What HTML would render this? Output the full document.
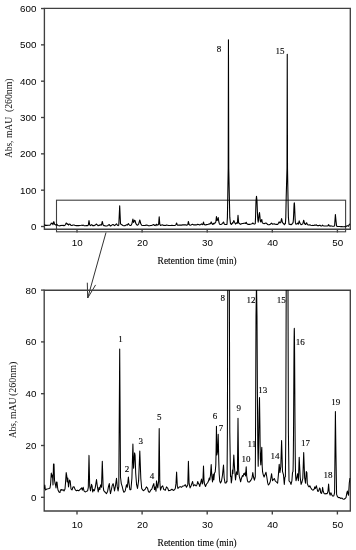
<!DOCTYPE html>
<html><head><meta charset="utf-8"><title>Chromatogram</title>
<style>
html,body{margin:0;padding:0;background:#fff;}
body{width:356px;height:550px;overflow:hidden;font-family:"Liberation Sans", sans-serif;}
svg{display:block;}
#w{width:356px;height:550px;filter:grayscale(1);}
</style></head><body>
<div id="w"><svg width="356" height="550" viewBox="0 0 356 550">
<rect width="356" height="550" fill="#fff"/>
<defs>
<clipPath id="cb"><rect x="44" y="290.1" width="306.5" height="221"/></clipPath>
<clipPath id="ct"><rect x="44" y="8" width="306.5" height="221"/></clipPath>
</defs>
<!-- top chart -->
<g stroke="#404040" stroke-width="1.35" fill="none">
<path d="M44.4,8.4 H350.3 V229.2 H44.4 Z"/>
<line x1="41" y1="226.50" x2="44.5" y2="226.50"/>
<line x1="41" y1="190.17" x2="44.5" y2="190.17"/>
<line x1="41" y1="153.84" x2="44.5" y2="153.84"/>
<line x1="41" y1="117.51" x2="44.5" y2="117.51"/>
<line x1="41" y1="81.18" x2="44.5" y2="81.18"/>
<line x1="41" y1="44.85" x2="44.5" y2="44.85"/>
<line x1="41" y1="8.52" x2="44.5" y2="8.52"/>
<line x1="77.0" y1="229" x2="77.0" y2="232.5"/>
<line x1="142.1" y1="229" x2="142.1" y2="232.5"/>
<line x1="207.2" y1="229" x2="207.2" y2="232.5"/>
<line x1="272.3" y1="229" x2="272.3" y2="232.5"/>
<line x1="337.4" y1="229" x2="337.4" y2="232.5"/>
<rect x="56.5" y="200.2" width="289.1" height="31.6" stroke-width="1.1"/>
<g stroke="#333" stroke-width="1"><line x1="106" y1="232.5" x2="87.7" y2="298"/>
<polyline points="87.3,282.7 87.7,298 95.6,284.9"/></g>
</g>
<path d="M44.30,225.34 L44.80,224.77 L45.40,225.48 L46.00,225.41 L47.00,225.34 L48.00,225.31 L49.00,225.27 L50.00,225.20 L50.60,224.63 L51.30,223.09 L51.90,223.65 L52.50,223.37 L53.00,224.77 L53.50,221.83 L54.00,221.83 L54.50,224.07 L55.00,224.49 L55.50,224.77 L56.00,225.20 L56.50,224.35 L57.00,224.35 L57.50,225.06 L58.00,225.48 L59.00,225.76 L60.00,225.83 L60.50,225.48 L61.50,225.41 L62.00,225.55 L63.00,225.41 L64.00,225.62 L65.00,225.34 L65.50,224.49 L66.20,223.02 L66.80,223.51 L67.20,224.35 L67.80,223.79 L68.50,225.06 L69.50,224.07 L70.20,224.21 L71.00,225.34 L72.00,225.48 L73.00,225.06 L74.00,225.01 L75.20,225.42 L76.40,225.59 L77.50,225.50 L78.70,225.59 L79.90,225.42 L81.10,225.27 L81.70,225.18 L82.30,225.50 L83.20,225.10 L84.00,225.59 L85.20,225.76 L86.40,225.67 L87.60,225.59 L88.30,225.10 L89.00,220.62 L89.70,224.91 L90.50,225.59 L91.50,224.68 L92.10,224.91 L92.70,225.76 L93.50,225.42 L94.30,225.59 L95.30,225.10 L96.50,224.02 L97.30,224.91 L98.20,225.76 L99.10,225.10 L99.80,225.42 L100.60,224.76 L101.50,225.10 L102.30,221.45 L103.10,224.91 L103.80,225.59 L104.60,225.67 L105.40,225.85 L106.50,225.98 L107.60,225.67 L108.50,224.97 L109.30,224.58 L109.90,225.48 L110.50,225.98 L111.30,225.48 L112.20,224.84 L113.10,224.58 L113.80,224.97 L114.50,225.60 L115.40,224.97 L116.50,223.82 L117.20,224.97 L118.10,225.60 L118.80,224.97 L119.70,205.70 L120.50,223.69 L121.30,224.58 L122.20,224.97 L123.00,225.48 L123.90,225.80 L125.20,225.62 L126.50,224.73 L127.30,225.10 L128.40,223.65 L129.00,224.55 L129.90,225.45 L130.90,225.45 L131.90,223.83 L132.90,219.02 L133.60,222.42 L134.60,220.27 L135.10,220.62 L135.70,223.13 L136.60,224.73 L137.50,225.27 L138.60,224.20 L139.80,220.01 L140.80,223.83 L141.70,225.27 L143.00,225.53 L143.60,225.57 L145.30,225.35 L146.40,225.04 L147.50,225.20 L148.50,225.73 L149.60,225.80 L150.70,225.50 L151.80,225.35 L152.90,224.89 L153.80,224.58 L154.50,225.42 L155.30,225.04 L156.00,225.66 L156.50,224.20 L157.30,224.89 L157.80,225.20 L158.60,224.27 L159.20,216.86 L159.80,224.27 L160.50,225.50 L161.60,225.04 L162.70,224.89 L163.80,225.42 L165.40,225.50 L166.50,225.04 L167.60,225.20 L168.70,225.57 L170.40,225.50 L171.90,225.36 L173.20,225.53 L174.50,225.45 L175.30,225.27 L176.00,224.55 L176.60,222.95 L177.30,224.91 L177.90,225.27 L178.90,225.10 L180.20,225.00 L181.50,225.10 L182.70,224.91 L184.00,224.91 L185.30,224.73 L186.50,225.10 L187.80,224.73 L188.40,221.44 L189.10,224.55 L190.10,225.18 L191.00,224.91 L191.90,224.55 L192.60,224.28 L193.50,224.91 L194.80,224.73 L196.10,224.91 L197.00,224.73 L197.70,224.28 L198.40,224.56 L199.00,224.63 L199.80,224.99 L200.80,224.35 L201.50,223.93 L202.20,224.63 L202.80,224.49 L203.50,222.11 L204.00,224.07 L204.50,224.63 L205.50,224.99 L206.50,224.63 L207.50,224.49 L208.50,224.21 L209.20,223.79 L209.80,224.07 L210.50,223.37 L211.20,221.90 L211.80,223.51 L212.50,224.35 L213.20,223.23 L213.80,224.07 L214.50,223.09 L215.20,222.95 L215.80,221.97 L216.10,219.87 L216.45,216.53 L216.90,220.57 L217.50,220.15 L218.20,217.65 L218.80,221.55 L219.20,223.23 L219.70,224.21 L220.50,224.49 L221.50,224.21 L222.50,223.37 L223.50,221.97 L224.20,223.79 L225.00,224.49 L226.00,224.49 L226.80,224.21 L227.00,224.32 L227.40,217.42 L227.75,197.44 L228.20,168.37 L228.45,39.76 L228.75,168.37 L229.35,197.44 L229.80,217.42 L230.50,223.59 L230.90,223.51 L231.30,224.49 L231.80,224.07 L232.50,222.67 L232.90,223.18 L233.80,220.57 L234.50,222.29 L235.50,224.07 L236.50,222.92 L237.40,223.30 L238.00,215.42 L238.60,222.67 L239.30,223.57 L240.00,223.93 L240.60,224.33 L241.50,223.82 L242.50,223.44 L243.10,223.57 L243.80,223.18 L244.50,223.30 L245.10,223.05 L245.50,223.51 L246.20,222.22 L246.70,223.51 L247.50,224.21 L248.10,224.34 L249.60,224.34 L251.10,224.06 L252.00,223.79 L252.80,223.02 L253.50,223.65 L254.40,224.10 L255.10,223.72 L255.30,223.59 L255.60,215.60 L256.00,201.07 L256.50,196.35 L257.00,201.07 L257.40,211.97 L257.80,219.23 L258.20,222.14 L258.60,219.23 L259.10,214.51 L259.50,212.51 L259.90,216.33 L260.30,221.05 L260.80,221.96 L261.30,220.32 L261.80,219.49 L262.20,222.14 L262.60,222.94 L263.20,223.32 L264.10,223.65 L265.00,223.32 L266.00,222.99 L266.80,223.65 L267.70,224.48 L268.40,224.77 L269.30,224.63 L270.30,224.28 L271.60,223.19 L272.50,224.19 L273.30,224.02 L274.30,223.86 L275.20,224.19 L276.40,224.35 L277.60,224.52 L278.40,223.36 L279.20,221.87 L279.90,223.04 L280.80,222.19 L281.60,218.55 L282.50,222.87 L283.50,223.36 L284.30,224.69 L284.90,223.69 L285.40,223.59 L285.80,217.42 L286.20,197.44 L287.00,168.37 L287.25,54.30 L287.50,168.37 L288.00,197.44 L288.40,217.42 L289.00,223.96 L289.00,224.19 L290.10,224.35 L291.00,224.69 L291.90,224.19 L292.50,223.04 L293.00,222.88 L293.10,222.43 L293.20,221.76 L293.30,220.80 L293.40,219.51 L293.50,217.84 L293.60,215.81 L293.70,213.48 L293.80,210.98 L293.90,208.48 L294.00,206.20 L294.10,204.37 L294.20,203.19 L294.30,202.79 L294.40,203.23 L294.50,204.46 L294.60,206.33 L294.70,208.65 L294.80,211.19 L294.90,213.74 L295.00,216.10 L295.10,218.18 L295.20,219.88 L295.30,221.22 L295.40,222.22 L295.50,222.93 L295.60,223.42 L296.00,224.19 L296.90,223.69 L297.60,223.19 L298.40,224.19 L299.20,220.88 L300.20,223.69 L301.10,224.69 L302.00,224.35 L302.80,223.86 L303.70,220.22 L304.60,223.69 L305.50,224.52 L306.30,222.90 L306.90,223.05 L307.30,224.58 L308.20,224.89 L309.10,225.04 L309.80,224.89 L310.90,225.20 L312.00,225.42 L313.10,225.50 L314.20,225.35 L314.70,225.04 L315.30,225.27 L316.40,224.89 L316.90,225.20 L317.70,225.66 L318.50,225.66 L319.60,225.20 L320.20,225.35 L320.70,225.88 L321.60,225.95 L322.40,225.42 L322.60,225.11 L323.20,225.66 L324.00,225.95 L325.10,226.04 L326.00,225.98 L327.20,225.98 L328.00,225.63 L328.60,224.65 L329.30,225.85 L330.10,226.21 L330.90,225.85 L331.60,226.09 L332.50,226.32 L333.80,226.32 L334.60,225.85 L335.00,219.96 L335.40,214.47 L335.90,219.96 L336.60,226.09 L337.50,226.43 L338.70,226.54 L339.90,226.54 L340.70,226.67 L342.00,226.60 L342.80,226.72 L344.00,226.78 L345.20,226.67 L346.00,226.54 L346.90,225.85 L347.40,225.63 L347.90,225.98 L348.50,226.21 L349.30,224.48 L350.00,223.79" fill="none" stroke="#000" stroke-width="1.1" stroke-linejoin="round" clip-path="url(#ct)"/>
<!-- bottom chart -->
<g stroke="#404040" stroke-width="1.35" fill="none">
<path d="M44.2,290.2 H350.3 V511.0 H44.2 Z"/>
<line x1="41" y1="497.30" x2="44.5" y2="497.30"/>
<line x1="41" y1="445.50" x2="44.5" y2="445.50"/>
<line x1="41" y1="393.70" x2="44.5" y2="393.70"/>
<line x1="41" y1="341.90" x2="44.5" y2="341.90"/>
<line x1="41" y1="290.10" x2="44.5" y2="290.10"/>
<line x1="77.0" y1="511" x2="77.0" y2="514.5"/>
<line x1="142.1" y1="511" x2="142.1" y2="514.5"/>
<line x1="207.2" y1="511" x2="207.2" y2="514.5"/>
<line x1="272.3" y1="511" x2="272.3" y2="514.5"/>
<line x1="337.4" y1="511" x2="337.4" y2="514.5"/>
</g>
<path d="M44.30,489.00 L44.80,485.00 L45.40,490.00 L46.00,489.50 L47.00,489.00 L48.00,488.80 L49.00,488.50 L50.00,488.00 L50.60,484.00 L51.30,473.00 L51.90,477.00 L52.50,475.00 L53.00,485.00 L53.50,464.00 L54.00,464.00 L54.50,480.00 L55.00,483.00 L55.50,485.00 L56.00,488.00 L56.50,482.00 L57.00,482.00 L57.50,487.00 L58.00,490.00 L59.00,492.00 L60.00,492.50 L60.50,490.00 L61.50,489.50 L62.00,490.50 L63.00,489.50 L64.00,491.00 L65.00,489.00 L65.50,483.00 L66.20,472.50 L66.80,476.00 L67.20,482.00 L67.80,478.00 L68.50,487.00 L69.50,480.00 L70.20,481.00 L71.00,489.00 L72.00,490.00 L73.00,487.00 L74.00,486.70 L75.20,489.60 L76.40,490.80 L77.50,490.20 L78.70,490.80 L79.90,489.60 L81.10,488.50 L81.70,487.90 L82.30,490.20 L83.20,487.30 L84.00,490.80 L85.20,492.00 L86.40,491.40 L87.60,490.80 L88.30,487.30 L89.00,455.40 L89.70,486.00 L90.50,490.80 L91.50,484.30 L92.10,486.00 L92.70,492.00 L93.50,489.60 L94.30,490.80 L95.30,487.30 L96.50,479.60 L97.30,486.00 L98.20,492.00 L99.10,487.30 L99.80,489.60 L100.60,484.90 L101.50,487.30 L102.30,461.30 L103.10,486.00 L103.80,490.80 L104.60,491.40 L105.40,492.70 L106.50,493.60 L107.60,491.40 L108.50,486.40 L109.30,483.60 L109.90,490.00 L110.50,493.60 L111.30,490.00 L112.20,485.50 L113.10,483.60 L113.80,486.40 L114.50,490.90 L115.40,486.40 L116.50,478.20 L117.20,486.40 L118.10,490.90 L118.80,486.40 L119.70,349.00 L120.50,477.30 L121.30,483.60 L122.20,486.40 L123.00,490.00 L123.90,492.30 L125.20,491.00 L126.50,484.70 L127.30,487.30 L128.40,477.00 L129.00,483.40 L129.90,489.80 L130.90,489.80 L131.90,478.30 L132.90,444.00 L133.60,468.20 L134.60,452.90 L135.10,455.40 L135.70,473.30 L136.60,484.70 L137.50,488.50 L138.60,480.90 L139.80,451.00 L140.80,478.30 L141.70,488.50 L143.00,490.40 L143.60,490.70 L145.30,489.10 L146.40,486.90 L147.50,488.00 L148.50,491.80 L149.60,492.30 L150.70,490.20 L151.80,489.10 L152.90,485.80 L153.80,483.60 L154.50,489.60 L155.30,486.90 L156.00,491.30 L156.50,480.90 L157.30,485.80 L157.80,488.00 L158.60,481.40 L159.20,428.60 L159.80,481.40 L160.50,490.20 L161.60,486.90 L162.70,485.80 L163.80,489.60 L165.40,490.20 L166.50,486.90 L167.60,488.00 L168.70,490.70 L170.40,490.20 L171.90,489.20 L173.20,490.40 L174.50,489.80 L175.30,488.50 L176.00,483.40 L176.60,472.00 L177.30,486.00 L177.90,488.50 L178.90,487.30 L180.20,486.60 L181.50,487.30 L182.70,486.00 L184.00,486.00 L185.30,484.70 L186.50,487.30 L187.80,484.70 L188.40,461.20 L189.10,483.40 L190.10,487.90 L191.00,486.00 L191.90,483.40 L192.60,481.50 L193.50,486.00 L194.80,484.70 L196.10,486.00 L197.00,484.70 L197.70,481.50 L198.40,483.50 L199.00,484.00 L199.80,486.50 L200.80,482.00 L201.50,479.00 L202.20,484.00 L202.80,483.00 L203.50,466.00 L204.00,480.00 L204.50,484.00 L205.50,486.50 L206.50,484.00 L207.50,483.00 L208.50,481.00 L209.20,478.00 L209.80,480.00 L210.50,475.00 L211.20,464.50 L211.80,476.00 L212.50,482.00 L213.20,474.00 L213.80,480.00 L214.50,473.00 L215.20,472.00 L215.80,465.00 L216.10,450.00 L216.45,426.20 L216.90,455.00 L217.50,452.00 L218.20,434.20 L218.80,462.00 L219.20,474.00 L219.70,481.00 L220.50,483.00 L221.50,481.00 L222.50,475.00 L223.50,465.00 L224.20,478.00 L225.00,483.00 L226.00,483.00 L226.80,481.00 L227.00,481.76 L227.40,432.55 L227.75,290.10 L228.20,82.90 L228.45,-833.96 L228.75,82.90 L229.35,290.10 L229.80,432.55 L230.50,476.58 L230.90,476.00 L231.30,483.00 L231.80,480.00 L232.50,470.00 L232.90,473.60 L233.80,455.00 L234.50,467.30 L235.50,480.00 L236.50,471.80 L237.40,474.50 L238.00,418.30 L238.60,470.00 L239.30,476.40 L240.00,479.00 L240.60,481.80 L241.50,478.20 L242.50,475.50 L243.10,476.40 L243.80,473.60 L244.50,474.50 L245.10,472.70 L245.50,476.00 L246.20,466.80 L246.70,476.00 L247.50,481.00 L248.10,481.90 L249.60,481.90 L251.10,479.90 L252.00,478.00 L252.80,472.50 L253.50,477.00 L254.40,480.20 L255.10,477.50 L255.30,476.58 L255.60,419.60 L256.00,316.00 L256.50,282.33 L257.00,316.00 L257.40,393.70 L257.80,445.50 L258.20,466.22 L258.60,445.50 L259.10,411.83 L259.50,397.59 L259.90,424.78 L260.30,458.45 L260.80,464.93 L261.30,453.27 L261.80,447.31 L262.20,466.22 L262.60,471.92 L263.20,474.60 L264.10,477.00 L265.00,474.60 L266.00,472.30 L266.80,477.00 L267.70,482.90 L268.40,485.00 L269.30,484.00 L270.30,481.50 L271.60,473.70 L272.50,480.80 L273.30,479.60 L274.30,478.50 L275.20,480.80 L276.40,482.00 L277.60,483.20 L278.40,474.90 L279.20,464.30 L279.90,472.60 L280.80,466.60 L281.60,440.60 L282.50,471.40 L283.50,474.90 L284.30,484.40 L284.90,477.30 L285.40,476.58 L285.80,432.55 L286.20,290.10 L287.00,82.90 L287.25,-730.36 L287.50,82.90 L288.00,290.10 L288.40,432.55 L289.00,479.17 L289.00,480.80 L290.10,482.00 L291.00,484.40 L291.90,480.80 L292.50,472.60 L293.00,471.47 L293.10,468.30 L293.20,463.52 L293.30,456.70 L293.40,447.45 L293.50,435.56 L293.60,421.10 L293.70,404.51 L293.80,386.66 L293.90,368.84 L294.00,352.60 L294.10,339.55 L294.20,331.13 L294.30,328.30 L294.40,331.43 L294.50,340.15 L294.60,353.50 L294.70,370.04 L294.80,388.16 L294.90,406.30 L295.00,423.19 L295.10,437.95 L295.20,450.14 L295.30,459.69 L295.40,466.81 L295.50,471.88 L295.60,475.35 L296.00,480.80 L296.90,477.30 L297.60,473.70 L298.40,480.80 L299.20,457.20 L300.20,477.30 L301.10,484.40 L302.00,482.00 L302.80,478.50 L303.70,452.50 L304.60,477.30 L305.50,483.20 L306.30,471.60 L306.90,472.70 L307.30,483.60 L308.20,485.80 L309.10,486.90 L309.80,485.80 L310.90,488.00 L312.00,489.60 L313.10,490.20 L314.20,489.10 L314.70,486.90 L315.30,488.50 L316.40,485.80 L316.90,488.00 L317.70,491.30 L318.50,491.30 L319.60,488.00 L320.20,489.10 L320.70,492.90 L321.60,493.40 L322.40,489.60 L322.60,487.40 L323.20,491.30 L324.00,493.40 L325.10,494.00 L326.00,493.60 L327.20,493.60 L328.00,491.10 L328.60,484.10 L329.30,492.70 L330.10,495.20 L330.90,492.70 L331.60,494.40 L332.50,496.00 L333.80,496.00 L334.60,492.70 L335.00,450.68 L335.40,411.57 L335.90,450.68 L336.60,494.40 L337.50,496.80 L338.70,497.60 L339.90,497.60 L340.70,498.50 L342.00,498.00 L342.80,498.90 L344.00,499.30 L345.20,498.50 L346.00,497.60 L346.90,492.70 L347.40,491.10 L347.90,493.60 L348.50,495.20 L349.30,482.90 L350.00,478.00" fill="none" stroke="#000" stroke-width="1.05" stroke-linejoin="round" clip-path="url(#cb)"/>
<g font-family="Liberation Sans, sans-serif" font-size="9.8" fill="#000">
<text x="36.4" y="230.00" text-anchor="end">0</text>
<text x="36.4" y="193.67" text-anchor="end">100</text>
<text x="36.4" y="157.34" text-anchor="end">200</text>
<text x="36.4" y="121.01" text-anchor="end">300</text>
<text x="36.4" y="84.68" text-anchor="end">400</text>
<text x="36.4" y="48.35" text-anchor="end">500</text>
<text x="36.4" y="12.02" text-anchor="end">600</text>
<text x="36.4" y="500.80" text-anchor="end">0</text>
<text x="36.4" y="449.00" text-anchor="end">20</text>
<text x="36.4" y="397.20" text-anchor="end">40</text>
<text x="36.4" y="345.40" text-anchor="end">60</text>
<text x="36.4" y="293.60" text-anchor="end">80</text>
<text x="77.3" y="245.6" text-anchor="middle">10</text>
<text x="142.4" y="245.6" text-anchor="middle">20</text>
<text x="207.5" y="245.6" text-anchor="middle">30</text>
<text x="272.6" y="245.6" text-anchor="middle">40</text>
<text x="337.7" y="245.6" text-anchor="middle">50</text>
<text x="77.3" y="527.6" text-anchor="middle">10</text>
<text x="142.4" y="527.6" text-anchor="middle">20</text>
<text x="207.5" y="527.6" text-anchor="middle">30</text>
<text x="272.6" y="527.6" text-anchor="middle">40</text>
<text x="337.7" y="527.6" text-anchor="middle">50</text>
</g>
<g font-family="Liberation Serif, serif" font-size="9" fill="#000" stroke="#000" stroke-width="0.12">
<text x="120.50" y="341.74" text-anchor="middle">1</text>
<text x="126.90" y="472.34" text-anchor="middle">2</text>
<text x="140.80" y="444.34" text-anchor="middle">3</text>
<text x="152.10" y="478.84" text-anchor="middle">4</text>
<text x="159.30" y="420.44" text-anchor="middle">5</text>
<text x="215.10" y="419.34" text-anchor="middle">6</text>
<text x="221.00" y="431.14" text-anchor="middle">7</text>
<text x="222.70" y="301.34" text-anchor="middle">8</text>
<text x="238.80" y="411.14" text-anchor="middle">9</text>
<text x="245.90" y="461.54" text-anchor="middle">10</text>
<text x="251.90" y="446.54" text-anchor="middle">11</text>
<text x="251.10" y="302.74" text-anchor="middle">12</text>
<text x="262.80" y="392.94" text-anchor="middle">13</text>
<text x="275.10" y="458.54" text-anchor="middle">14</text>
<text x="281.30" y="302.74" text-anchor="middle">15</text>
<text x="300.20" y="344.64" text-anchor="middle">16</text>
<text x="305.50" y="445.74" text-anchor="middle">17</text>
<text x="328.00" y="477.54" text-anchor="middle">18</text>
<text x="335.70" y="404.84" text-anchor="middle">19</text>
<text x="219.10" y="52.34" text-anchor="middle">8</text>
<text x="280.00" y="54.24" text-anchor="middle">15</text>
</g>
<g font-family="Liberation Serif, serif" font-size="9.4" fill="#000" stroke="#000" stroke-width="0.1">
<text x="157.6" y="264.3" textLength="36.8" lengthAdjust="spacingAndGlyphs">Retention</text><text x="197.5" y="264.3" textLength="39.1" lengthAdjust="spacingAndGlyphs">time (min)</text>
<text x="157.6" y="545.8" textLength="36.8" lengthAdjust="spacingAndGlyphs">Retention</text><text x="197.5" y="545.8" textLength="39.1" lengthAdjust="spacingAndGlyphs">time (min)</text>
<g transform="translate(11.5,157.7) rotate(-90)" stroke="none" fill="#111"><text x="0" y="0" textLength="17.0" lengthAdjust="spacingAndGlyphs">Abs,</text><text x="19.6" y="0" textLength="21.3" lengthAdjust="spacingAndGlyphs">mAU</text><text x="45.6" y="0" textLength="33.7" lengthAdjust="spacingAndGlyphs">(260nm)</text></g>
<g transform="translate(15.9,437.9) rotate(-90)" stroke="none" fill="#111"><text x="0" y="0" textLength="17.1" lengthAdjust="spacingAndGlyphs">Abs,</text><text x="18.9" y="0" textLength="21.6" lengthAdjust="spacingAndGlyphs">mAU</text><text x="41.8" y="0" textLength="34.5" lengthAdjust="spacingAndGlyphs">(260nm)</text></g>
</g>
</svg></div>
</body></html>
